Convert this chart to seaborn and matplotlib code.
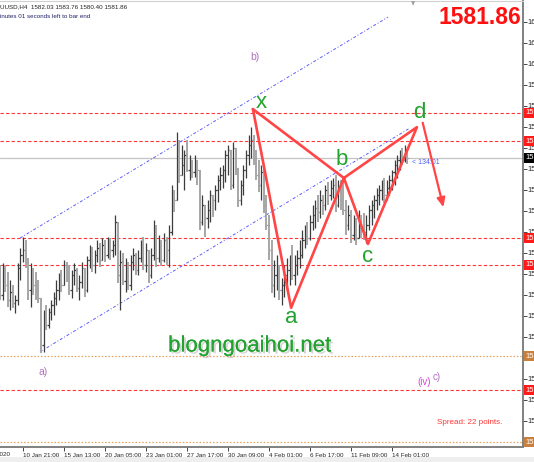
import numpy as np
import seaborn as sns
import matplotlib.pyplot as plt
from matplotlib import patheffects as pe
from matplotlib.patches import Rectangle

# XAUUSD H4 bars (price)
highs = [
    1556.4, 1556.9, 1556.4, 1554.7, 1552.8, 1551.6, 1549.3, 1556.9, 1560.5, 1563.0,
    1562.3, 1558.1, 1556.9, 1555.7, 1554.7, 1552.8, 1548.6, 1545.7, 1546.9, 1546.2,
    1548.1, 1549.9, 1552.8, 1554.5, 1555.2, 1557.6, 1557.1, 1556.4, 1555.2, 1556.9,
    1555.7, 1554.0, 1557.1, 1555.2, 1558.6, 1561.2, 1560.7, 1560.0, 1562.3, 1561.6,
    1562.8, 1562.3, 1563.0, 1562.8, 1562.3, 1568.3, 1565.9, 1560.0, 1559.3, 1558.1,
    1557.1, 1558.8, 1560.5, 1559.3, 1560.0, 1562.3, 1563.0, 1561.6, 1558.8, 1560.5,
    1567.1, 1565.9, 1563.5, 1562.3, 1564.0, 1563.0, 1565.9, 1575.4, 1574.2, 1588.0,
    1586.2, 1585.0, 1583.8, 1586.2, 1582.6, 1581.4, 1582.6, 1581.4, 1578.5, 1573.1,
    1570.7, 1571.9, 1574.2, 1573.1, 1575.4, 1577.8, 1579.7, 1580.2, 1583.8, 1585.0,
    1581.4, 1585.7, 1584.3, 1579.0, 1576.6, 1580.2, 1583.8, 1587.3, 1589.2, 1587.3,
    1583.8, 1581.4, 1580.2, 1580.2, 1573.1, 1568.3, 1562.3, 1557.6, 1558.8, 1556.4,
    1553.3, 1556.4, 1558.1, 1558.8, 1561.2, 1558.8, 1560.0, 1562.3, 1564.7, 1565.9,
    1566.6, 1568.3, 1570.7, 1571.9, 1573.1, 1574.2, 1573.1, 1575.4, 1576.1, 1576.6,
    1577.1, 1577.8, 1576.6, 1576.6, 1577.1, 1571.9, 1570.7, 1569.5, 1568.3, 1567.6,
    1569.5, 1568.3, 1568.8, 1568.3, 1570.7, 1571.9, 1573.1, 1574.7, 1575.4, 1576.6,
    1577.1, 1576.6, 1577.8, 1579.0, 1581.4, 1582.6, 1583.8, 1584.3, 1585.0, 1583.76,
]
lows = [
    1548.1, 1548.1, 1549.9, 1546.4, 1545.7, 1546.2, 1545.0, 1546.9, 1552.8, 1557.1,
    1555.7, 1548.1, 1546.4, 1549.3, 1548.1, 1547.4, 1535.5, 1535.7, 1540.9, 1541.4,
    1543.3, 1544.5, 1546.9, 1548.1, 1549.9, 1551.6, 1552.3, 1549.3, 1548.6, 1551.6,
    1549.9, 1548.1, 1550.9, 1548.8, 1549.9, 1555.7, 1554.7, 1554.5, 1557.1, 1555.9,
    1558.1, 1557.1, 1558.1, 1557.6, 1558.3, 1558.8, 1552.1, 1545.7, 1551.6, 1549.9,
    1550.4, 1550.4, 1555.2, 1554.0, 1554.0, 1557.1, 1555.2, 1554.7, 1552.1, 1553.3,
    1557.6, 1555.9, 1557.1, 1556.2, 1557.1, 1556.4, 1555.9, 1563.5, 1569.0, 1571.9,
    1575.9, 1577.8, 1574.2, 1578.5, 1576.6, 1577.1, 1577.4, 1575.4, 1564.7, 1565.9,
    1563.0, 1565.2, 1566.6, 1567.8, 1569.5, 1571.4, 1574.2, 1574.7, 1576.1, 1577.8,
    1574.2, 1574.7, 1577.8, 1570.2, 1570.7, 1573.1, 1577.1, 1580.2, 1581.9, 1580.2,
    1576.6, 1573.8, 1571.9, 1568.8, 1564.7, 1557.6, 1549.7, 1548.8, 1550.4, 1548.1,
    1546.9, 1548.8, 1550.4, 1551.6, 1552.8, 1551.6, 1554.0, 1555.7, 1558.1, 1560.5,
    1561.2, 1562.3, 1564.7, 1565.2, 1566.6, 1567.6, 1568.3, 1569.5, 1570.7, 1571.9,
    1572.4, 1569.0, 1570.2, 1569.5, 1568.3, 1563.5, 1564.7, 1561.6, 1562.3, 1561.2,
    1563.5, 1562.8, 1562.3, 1561.6, 1564.7, 1565.9, 1567.6, 1569.5, 1570.7, 1571.9,
    1571.2, 1571.9, 1573.1, 1574.2, 1575.4, 1577.1, 1579.0, 1580.2, 1580.9, 1580.40,
]
closes = [
    1549.3, 1555.2, 1551.6, 1548.1, 1549.9, 1547.4, 1548.1, 1555.7, 1558.8, 1560.0,
    1557.1, 1550.4, 1554.7, 1551.6, 1550.4, 1548.6, 1537.4, 1544.5, 1542.1, 1545.2,
    1546.9, 1548.6, 1550.4, 1552.8, 1551.6, 1556.4, 1554.0, 1550.4, 1554.0, 1555.2,
    1550.9, 1552.3, 1555.7, 1550.4, 1557.6, 1559.5, 1556.4, 1558.8, 1560.5, 1557.6,
    1561.2, 1558.8, 1561.6, 1560.0, 1561.2, 1566.6, 1554.0, 1557.1, 1552.6, 1555.7,
    1551.6, 1557.1, 1558.8, 1555.2, 1558.1, 1560.5, 1556.4, 1560.0, 1554.0, 1558.8,
    1565.2, 1558.1, 1561.2, 1557.6, 1562.3, 1560.0, 1564.2, 1573.8, 1571.9, 1583.8,
    1577.8, 1580.2, 1582.6, 1579.0, 1581.4, 1578.5, 1580.7, 1579.0, 1566.6, 1570.7,
    1567.6, 1569.5, 1573.1, 1571.9, 1574.2, 1576.6, 1577.8, 1579.0, 1582.6, 1583.8,
    1575.4, 1584.3, 1579.5, 1571.9, 1575.4, 1579.0, 1582.6, 1585.0, 1586.2, 1581.4,
    1577.8, 1575.4, 1578.5, 1570.7, 1565.9, 1560.0, 1551.6, 1554.0, 1555.2, 1550.4,
    1551.6, 1554.0, 1555.2, 1557.1, 1554.0, 1556.4, 1558.1, 1558.8, 1562.3, 1564.7,
    1562.8, 1566.6, 1568.3, 1570.0, 1569.0, 1571.9, 1570.7, 1574.2, 1573.1, 1574.7,
    1575.4, 1570.7, 1574.2, 1571.9, 1569.5, 1565.9, 1568.3, 1563.5, 1565.9, 1562.8,
    1566.6, 1564.7, 1564.2, 1565.9, 1569.5, 1570.7, 1571.9, 1573.1, 1574.2, 1575.4,
    1573.1, 1574.7, 1576.6, 1578.5, 1580.2, 1581.4, 1582.6, 1581.4, 1582.03, 1581.86,
]
first_open = 1552.5

first_date = (-7, '8 Jan 2020')      # partly off the left edge
date_pos = [9, 25, 41, 57, 73, 89, 105, 121, 137, 153]
date_lbl = ['10 Jan 21:00', '15 Jan 13:00', '20 Jan 05:00', '23 Jan 01:00',
            '27 Jan 17:00', '30 Jan 09:00', '4 Feb 01:00', '6 Feb 17:00', '11 Feb 09:00',
            '14 Feb 01:00']

red_levels = [1592.60, 1585.90, 1562.80, 1556.40, 1526.60]
orange_levels = [1534.70, 1514.20]
last_price = 1581.86

# harmonic pattern X-A-B-C-D (drawn as two triangles)
pat_idx = [98.7, 113.6, 134.2, 143.6, 162.7, 134.2, 98.7]
pat_price = [1593.5, 1546.2, 1577.1, 1561.4, 1589.2, 1577.1, 1593.5]
arrow_idx = [164.7, 173.3]
arrow_price = [1590.9, 1569.5]

# trend channel
upper_idx, upper_price = [7.8, 151.4], [1562.8, 1615.4]
lower_idx, lower_price = [15.6, 160.0], [1535.7, 1589.0]

sns.set_theme(style="white")
plt.rcParams['font.family'] = ['Liberation Sans', 'DejaVu Sans']
SMALL = 4.5
SCALE = 5.5

W, H = 534, 462
fig = plt.figure(figsize=(W / 100, H / 100), dpi=100)
ax = fig.add_axes([0, 15 / H, 523 / W, 1 - 16 / H])

n = len(closes)
idx = np.arange(n)
c = np.array(closes)
o = np.concatenate([[first_open], c[:-1]])
hi = np.maximum.reduce([np.array(highs), o, c])
lo = np.minimum.reduce([np.array(lows), o, c])
up = c >= o

for mask, col, lw in [(up, '#3c3c3c', 0.9), (~up, '#a6a6a6', 1.4)]:
    ax.vlines(idx[mask], lo[mask], hi[mask], colors=col, lw=lw, zorder=3)
    ax.hlines(o[mask], idx[mask] - 0.5, idx[mask], colors=col, lw=0.9, zorder=3)
    ax.hlines(c[mask], idx[mask], idx[mask] + 0.5, colors=col, lw=0.9, zorder=3)

# horizontal levels
for lv in red_levels:
    ax.axhline(lv, color='#ff3535', lw=0.8, ls=(0, (3, 2)), zorder=2)
for lv in orange_levels:
    ax.axhline(lv, color='#e8a060', lw=0.9, ls=(0, (1.2, 1.5)), zorder=2)
ax.axhline(last_price, color='#c4c4c4', lw=0.9, zorder=1)

# channel
for xs, ys in [(upper_idx, upper_price), (lower_idx, lower_price)]:
    sns.lineplot(x=xs, y=ys, ax=ax, color='#5a5aff', lw=0.7,
                 linestyle=(0, (3, 2, 1, 2)), zorder=2)

# pattern
sns.lineplot(x=pat_idx, y=pat_price, ax=ax, sort=False, estimator=None,
             color='#ff4545', lw=1.9, zorder=5)
ax.annotate('', xy=(arrow_idx[1], arrow_price[1]), xytext=(arrow_idx[0], arrow_price[0]),
            arrowprops=dict(arrowstyle='-|>,head_length=0.45,head_width=0.2',
                            color='#ff4545', lw=1.6), zorder=5)

green = '#22a22e'
for t, xi, yi in [('x', 101.9, 1595.0), ('a', 113.6, 1543.8), ('b', 133.5, 1581.4),
                  ('c', 143.6, 1558.3), ('d', 163.5, 1592.8)]:
    ax.text(xi, yi, t, color=green, fontsize=16, ha='center', va='center', zorder=6)

purple = '#b070c0'
ax.text(99.5, 1605.9, 'b)', color=purple, fontsize=7.5, ha='center', va='center')
ax.text(16.8, 1530.9, 'a)', color=purple, fontsize=7.5, ha='center', va='center')
ax.text(165.5, 1528.5, '(iv)', color='#e040e0', fontsize=7, ha='center', va='center')
ax.text(170.5, 1529.6, 'c)', color=purple, fontsize=7, ha='center', va='center')
ax.text(160.8, 1580.7, '< 134:01', color='#4a5cff', fontsize=5, ha='left', va='center')
ax.text(161.2, 1618.6, '\u25bc', color='#a0a0a0', fontsize=4, ha='center', va='center',
        family='DejaVu Sans')
ax.text(65.6, 1537.1, 'blogngoaihoi.net', color=green, fontsize=16, ha='left', va='center',
        zorder=6, path_effects=[pe.withSimplePatchShadow(offset=(1.5, -1.5),
                                                         shadow_rgbFace='#888888', alpha=0.35),
                                pe.Normal()])
ax.text(183.4, 1518.8, 'Spread: 22 points.', color='#ff3535', fontsize=5.8,
        ha='center', va='center')

# axes / scales
ax.yaxis.tick_right()
yt = [1614.25 - 5 * k for k in range(21)]
ax.set_yticks(yt)
ax.set_yticklabels([f'{v:.2f}' for v in yt])
ax.set_xticks(date_pos)
ax.set_xticklabels(date_lbl)
for lbl in ax.get_xticklabels():
    lbl.set_ha('left')
ax.set_xlim(0, 204.1)
ax.set_ylim(1513.05, 1619.24)
ax.tick_params(axis='both', length=3, width=0.7, color='#444444', direction='out')
ax.tick_params(axis='x', bottom=True, pad=1.5, labelsize=SMALL)
ax.tick_params(axis='y', right=True, left=False, pad=0.4, labelsize=SCALE)
ax.text(first_date[0] - 1.2, -0.012, first_date[1], transform=ax.get_xaxis_transform(),
        fontsize=SMALL, ha='left', va='top', clip_on=False)
ax.spines['left'].set_visible(False)
ax.spines['top'].set_color('#d0d0d0')
ax.spines['top'].set_linewidth(0.8)
for side in ['right', 'bottom']:
    ax.spines[side].set_color('#808080')
    ax.spines[side].set_linewidth(1.4)
ax.set_xlabel('')
ax.set_ylabel('')
ax.grid(False)

# price boxes on the scale
trans = ax.get_yaxis_transform()
boxes = [(lv, '#ff1a1a') for lv in red_levels] + [(lv, '#c8803c') for lv in orange_levels]
boxes.append((last_price, '#000000'))
for lv, col in boxes:
    ax.text(1.005, lv, f'{lv:.2f}', transform=trans, fontsize=SCALE, color='white',
            ha='left', va='center', clip_on=False, zorder=8,
            bbox=dict(boxstyle='square,pad=0.2', fc=col, ec='none'))

# header texts
fig.text(0.0, 1 - 7 / H, 'UUSD,H4  1582.03 1583.76 1580.40 1581.86', fontsize=SMALL,
         color='#222222', ha='left', va='center')
fig.text(0.0, 1 - 16 / H, 'inutes 01 seconds left to bar end', fontsize=SMALL,
         color='#22226a', ha='left', va='center')
fig.text(480 / W, 1 - 17 / H, '1581.86', fontsize=16.5, fontweight='bold',
         color='#ff1010', ha='center', va='center')

fig.add_artist(Rectangle((0, 0), 1, 5 / H, transform=fig.transFigure,
                         fc='#eeeeee', ec='none'))

fig.savefig('out.png', dpi=100)
